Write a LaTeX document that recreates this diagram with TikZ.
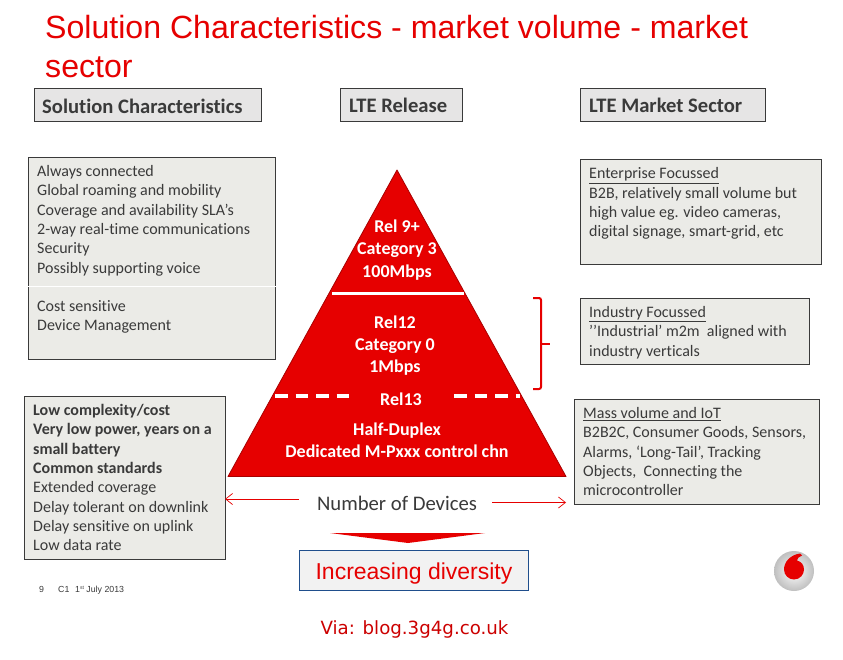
\documentclass[tikz,border=0pt]{standalone}
\usepackage{fontspec}
\setmainfont{Carlito}[Ligatures={NoCommon,TeX}]
\newfontfamily\arialf{Liberation Sans}
\newfontfamily\viaf{DejaVu Sans}
\usetikzlibrary{arrows.meta,shadings}
\definecolor{vred}{HTML}{E60000}
\definecolor{boxfill}{HTML}{EBEBE7}
\definecolor{headfill}{HTML}{E6E5E5}
\definecolor{ink}{HTML}{3A3A3A}
\definecolor{darkedge}{HTML}{A80000}
\definecolor{inkblue}{HTML}{1F4E8C}
\tikzset{
  panel/.style={draw=ink,line width=1pt,fill=boxfill},
  headpanel/.style={draw=ink,line width=1pt,fill=headfill},
  bodytext/.style={anchor=north west,inner sep=0pt,align=left,text=ink,font=\fontsize{16}{19.35}\selectfont},
  headtext/.style={anchor=west,inner sep=0pt,text=ink,font=\fontsize{20.6}{22}\selectfont\bfseries},
  pyrtext/.style={anchor=base,inner sep=0pt,text=white,font=\fontsize{18}{20}\selectfont\bfseries},
  wline/.style={draw=white,line width=3pt},
  wdash/.style={draw=white,line width=4pt,dash pattern=on 12.5pt off 8pt},
  thinarrow/.style={draw=vred,line width=0.8pt,-{Straight Barb[length=7pt,width=11pt,line width=0.7pt]}},
}
\begin{document}
\begin{tikzpicture}[x=1pt,y=-1pt]
\useasboundingbox (0,0) rectangle (843,660);
\fill[white] (0,0) rectangle (843,660);
% title
\node[anchor=north west,inner sep=0pt,align=left,text=vred,font=\arialf\fontsize{32.1}{39.5}\selectfont] (title) at (45,15)
  {Solution Characteristics - market volume - market\\sector};
% headers
\path[headpanel] (34,89) rectangle (261.5,122);
\node[headtext] (h1) at (42,106.5) {Solution Characteristics};
\path[headpanel] (340,89) rectangle (462,122);
\node[headtext] (h2) at (349,105.5) {LTE Release};
\path[headpanel] (580,89) rectangle (765,122);
\node[headtext] (h3) at (589,105.5) {LTE Market Sector};
% left top box
\path[panel] (28.5,157.5) rectangle (275.5,359.5);
\draw[white,line width=0.8pt] (28,286.5) -- (276,286.5);
\node[bodytext] (l1) at (37,165)
  {Always connected\\Global roaming and mobility\\Coverage and availability SLA’s\\2-way real-time communications\\Security\\Possibly supporting voice};
\node[bodytext] (l2) at (37,300)
  {Cost sensitive\\Device Management};
% left lower box
\path[panel] (24.5,396.5) rectangle (225,559);
\node[bodytext] (l3) at (33,404)
  {\textbf{Low complexity/cost}\\\textbf{Very low power, years on a}\\\textbf{small battery}\\\textbf{Common standards}\\Extended coverage\\Delay tolerant on downlink\\Delay sensitive on uplink\\Low data rate};
% right boxes
\path[panel] (580.5,159.5) rectangle (821.5,265);
\node[bodytext] (r1) at (589,167.5)
  {\underline{Enterprise Focussed}\\B2B, relatively small volume but\\high value eg. video cameras,\\digital signage, smart-grid, etc};
\path[panel] (580.5,298.5) rectangle (809.5,364.5);
\node[bodytext] (r2) at (589,306)
  {\underline{Industry Focussed}\\’’Industrial’ m2m\ \ aligned with\\industry verticals};
\path[panel] (574.5,399.5) rectangle (819.5,504);
\node[bodytext] (r3) at (583,407)
  {\underline{Mass volume and IoT}\\B2B2C, Consumer Goods, Sensors,\\Alarms, ‘Long-Tail’, Tracking\\Objects,\ \ Connecting the\\microcontroller};
% pyramid
\path[fill=vred,draw=darkedge,line width=0.8pt,line join=round] (397,170) -- (566,476.5) -- (228,476.5) -- cycle;
\draw[wline] (332,293.5) -- (463.5,293.5);
\draw[wdash] (275,396) -- (349,396);
\draw[wdash] (454,396) -- (520,396);
\node[pyrtext] (p1) at (397,233) {Rel 9+};
\node[pyrtext] (p2) at (397,255) {Category 3};
\node[pyrtext] (p3) at (397,277) {100Mbps};
\node[pyrtext] (p4) at (395,328) {Rel12};
\node[pyrtext] (p5) at (395,350) {Category 0};
\node[pyrtext] (p6) at (395,372) {1Mbps};
\node[pyrtext] (p7) at (401,405) {Rel13};
\node[pyrtext] (p8) at (397,435.5) {Half-Duplex};
\node[pyrtext] (p9) at (397,457.5) {Dedicated M-Pxxx control chn};
% bracket
\draw[draw=vred,line width=2pt,rounded corners=2pt] (533,298) -- (541,298) -- (541,389) -- (533,389);
\draw[draw=vred,line width=2pt] (541,343.5) -- (550,343.5);
% number of devices
\node[inner sep=0pt,text=ink,font=\fontsize{20.7}{24}\selectfont] (devices) at (397,503) {Number of Devices};
\coordinate (leftstart) at (299,499);
\coordinate (leftend) at (225,499);
\coordinate (rightstart) at (492,502.5);
\coordinate (rightend) at (566,502.5);
\draw[thinarrow] (leftstart) -- (leftend);
\draw[thinarrow] (rightstart) -- (rightend);
% down arrow
\fill[vred] (330,533) -- (485,533) -- (408,543) -- cycle;
% diversity
\node[draw=inkblue,line width=1pt,fill=black!5,minimum width=229pt,minimum height=40pt,inner sep=0pt] (diversity) at (413.5,570) {};
\node[anchor=base,inner sep=0pt,text=vred,font=\arialf\fontsize{23}{26}\selectfont] (divtext) at (414,579) {Increasing diversity};
% footer
\node[anchor=base west,inner sep=0pt,text=ink,font=\arialf\fontsize{8.8}{10}\selectfont] (f1) at (39,592) {9};
\node[anchor=base west,inner sep=0pt,text=ink,font=\arialf\fontsize{8.8}{10}\selectfont] (f2) at (58,592) {C1};
\node[anchor=base west,inner sep=0pt,text=ink,font=\arialf\fontsize{8.8}{10}\selectfont] (f3) at (75,592) {1\raisebox{2.5pt}{\fontsize{5}{6}\selectfont st} July 2013};
% logo
\shade[inner color=white,middle color=white,outer color=black!25] (794,571) circle (20);
\path[fill=vred] (800,553.5) .. controls (790,555) and (784,562) .. (784,569.5)
  .. controls (784,575.5) and (789,579.5) .. (794,579.5)
  .. controls (800,579.5) and (804,574.5) .. (804,569.5)
  .. controls (804,564.5) and (801,561.5) .. (797,560.5)
  .. controls (797,558.5) and (799,556.5) .. (802,555.5)
  .. controls (801.5,554.5) and (800.5,553.8) .. (800,553.5) -- cycle;
% via
\node[inner sep=0pt,text=red!80!black,font=\viaf\fontsize{18.2}{21}\selectfont] (via) at (414.5,629) {Via: blog.3g4g.co.uk};
\end{tikzpicture}
\end{document}
